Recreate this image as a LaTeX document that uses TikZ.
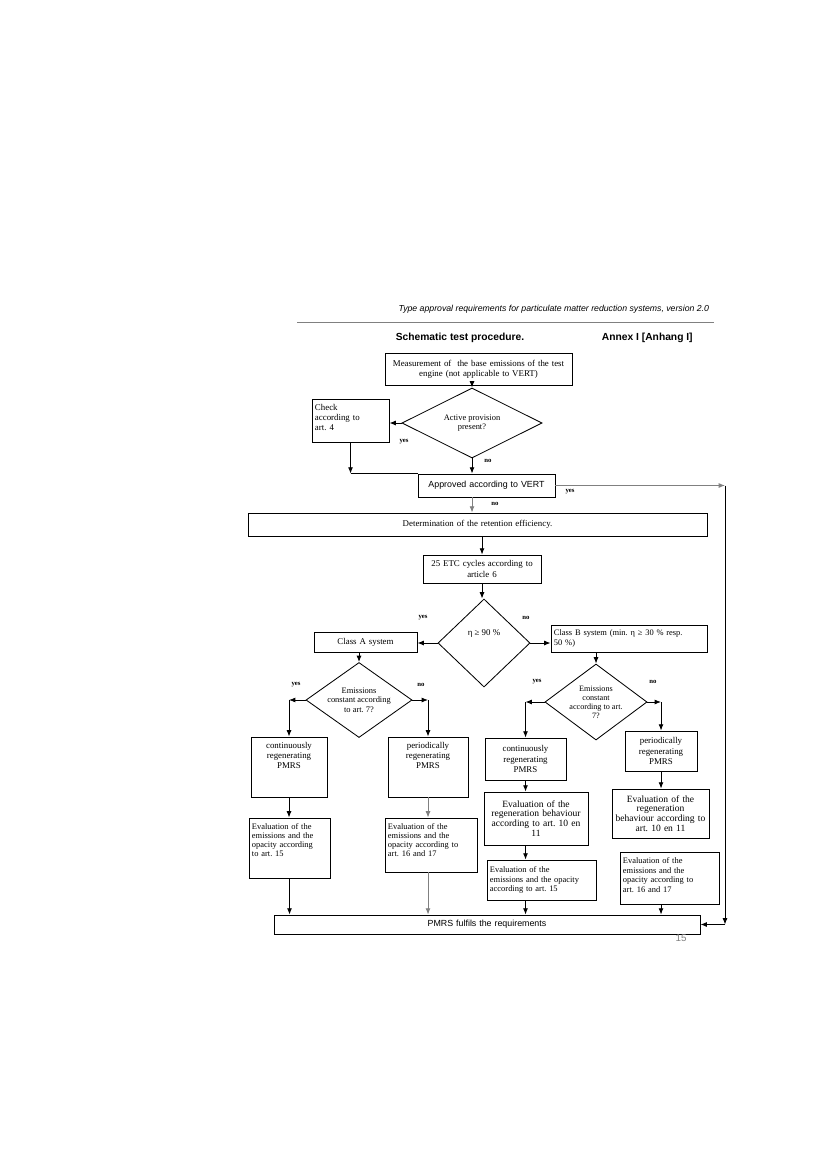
\documentclass[tikz,border=0pt]{standalone}
\usepackage{fontspec}
\setmainfont{Liberation Serif}
\setsansfont{Liberation Sans}
\usetikzlibrary{shapes.geometric,arrows.meta,positioning,calc}
\frenchspacing

\tikzset{
  box/.style={draw, rectangle, align=center, inner xsep=0.075cm, inner ysep=1pt,
              line width=0.6pt, font=\fontsize{6.3}{7.2}\selectfont},
  lbox/.style={box, align=left},
  sbox/.style={box, font=\sffamily\fontsize{6.3}{7}\selectfont},
  topbox/.style={text height=0.24cm, text depth=#1},
  decision/.style={draw, diamond, inner sep=0pt, align=center, line width=0.6pt,
                   font=\fontsize{6}{6.8}\selectfont},
  lbl/.style={font=\bfseries\fontsize{4.8}{5}\selectfont, inner sep=0pt},
  arr/.style={-{Latex[length=4.5pt,width=3.5pt]}, line width=0.6pt},
  line/.style={line width=0.6pt}
}

\begin{document}
\begin{tikzpicture}[x=0.025cm, y=-0.025cm]
\useasboundingbox (0,0) rectangle (826,1169);

% page header
\node[anchor=east, font=\sffamily\itshape\fontsize{6.2}{7}\selectfont] (hdr) at (714,309)
  {Type approval requirements for particulate matter reduction systems, version 2.0};
\draw[gray, line width=0.6pt] (297,322) -- (714,322);
\node[font=\sffamily\bfseries\fontsize{7.3}{8}\selectfont] (ttl) at (460,338) {Schematic test procedure.};
\node[anchor=west, font=\sffamily\bfseries\fontsize{7.3}{8}\selectfont] (annex) at (597,338) {Annex I [Anhang I]};

% upper part
\node[box, text width=4.525cm, minimum height=0.8cm] (meas) at (478.5,369)
  {Measurement of~ the base emissions of the test\\engine (not applicable to VERT)};
\node[decision, aspect=2, minimum width=3.5cm, minimum height=1.75cm] (dact) at (472,423)
  {Active provision\\present?};
\node[lbox, text width=1.775cm, topbox=0.765cm] (check) at (350.5,420.5)
  {Check\\according to\\art. 4};
\node[sbox, text width=3.275cm, minimum height=0.575cm] (vert) at (486.5,485.5)
  {Approved according to VERT};
\node[box, text width=11.325cm, minimum height=0.575cm] (det) at (477.5,524.5)
  {Determination of the retention efficiency.};
\node[box, text width=2.8cm, minimum height=0.7cm] (etc) at (482,569)
  {25 ETC cycles according to\\article 6};
\node[decision, minimum width=2.3cm, minimum height=2.2cm, text depth=0.5cm,
      font=\fontsize{6.3}{7}\selectfont] (deta) at (484,643) {η ≥ 90 \%};
\coordinate (vr) at (725,482);

% class A branch
\node[box, text width=2.425cm, minimum height=0.5cm] (clA) at (365.5,642) {Class A system};
\node[decision, aspect=1.4, minimum width=2.65cm, minimum height=1.875cm] (dA) at (359,700)
  {Emissions\\constant according\\to art. 7?};
\node[box, text width=1.75cm, text height=0.24cm, text depth=1.19cm] (contA) at (289,767)
  {continuously\\regenerating\\PMRS};
\node[box, text width=1.85cm, text height=0.24cm, text depth=1.19cm] (perA) at (428,767)
  {periodically\\regenerating\\PMRS};
\node[lbox, text width=1.875cm, topbox=1.19cm, font=\fontsize{6}{6.6}\selectfont] (evA1) at (289.5,848)
  {Evaluation of the\\emissions and the\\opacity according\\to art. 15};
\node[lbox, text width=2.15cm, topbox=1.04cm, font=\fontsize{6}{6.6}\selectfont] (evA2) at (431,845)
  {Evaluation of the\\emissions and the\\opacity according to\\art. 16 and 17};

% class B branch
\node[lbox, text width=3.75cm, minimum height=0.675cm, font=\fontsize{6}{7}\selectfont] (clB) at (629,638.5)
  {Class B system (min. η ≥ 30 \% resp.\\50 \%)};
\node[decision, aspect=1.34, minimum width=2.55cm, minimum height=1.9cm,
      font=\fontsize{5.8}{6.4}\selectfont] (dB) at (596,702)
  {Emissions\\constant\\according to art.\\7?};
\node[box, text width=1.875cm, minimum height=1.05cm] (contB) at (525.5,759)
  {continuously\\regenerating\\PMRS};
\node[box, text width=1.65cm, minimum height=1.0cm] (perB) at (661,751)
  {periodically\\regenerating\\PMRS};
\node[box, text width=2.45cm, minimum height=1.325cm, font=\fontsize{6.8}{7}\selectfont] (evB1) at (536,818.5)
  {Evaluation of the\\regeneration behaviour\\according to art. 10 en\\11};
\node[box, text width=2.275cm, minimum height=1.225cm, font=\fontsize{6.8}{7}\selectfont] (evB2) at (660.5,813.5)
  {Evaluation of the\\regeneration\\behaviour according to\\art. 10 en 11};
\node[lbox, text width=2.575cm, minimum height=1.0cm, font=\fontsize{6}{7}\selectfont] (evB3) at (541.5,880)
  {Evaluation of the\\emissions and the opacity\\according to art. 15};
\node[lbox, text width=2.325cm, topbox=1.0cm, font=\fontsize{6}{7}\selectfont] (evB4) at (669.5,878.5)
  {Evaluation of the\\emissions and the\\opacity according to\\art. 16 and 17};

% final box
\node[sbox, text width=10.5cm, minimum height=0.475cm] (fin) at (487,924.5)
  {PMRS fulfils the requirements};
\node[font=\sffamily\fontsize{7}{8}\selectfont, text=gray] (pg) at (681,938) {15};

% connectors
\draw[arr] (meas.south -| dact.north) -- (dact.north);
\draw[arr] (dact.west) -- (dact.west -| check.east);
\draw[line] (check.south |- vert.north) -- (vert.north west);
\draw[arr] (check.south) -- (check.south |- vert.north);
\draw[arr] (dact.south) -- (dact.south |- vert.north);
\draw[arr, gray] (vert.east) -- (vert.east -| vr);
\draw[arr] (vert.east -| vr) -- (vr |- fin.east);
\draw[arr] (vr |- fin.east) -- (fin.east);
\draw[arr, gray] (dact.south |- vert.south) -- (dact.south |- det.north);
\draw[arr] (etc.north |- det.south) -- (etc.north);
\draw[arr] (etc.south) -- (etc.south |- deta.north);
\draw[arr] (deta.west) -- (deta.west -| clA.east);
\draw[arr] (deta.east) -- (deta.east -| clB.west);

\draw[arr] (dA.north |- clA.south) -- (dA.north);
\draw[arr] (dA.west) -- (dA.west -| contA.north);
\draw[arr] (dA.west -| contA.north) -- (contA.north);
\draw[arr] (dA.east) -- (dA.east -| perA.north);
\draw[arr] (dA.east -| perA.north) -- (perA.north);
\draw[arr] (contA.south) -- (contA.south |- evA1.north);
\draw[arr, gray] (perA.south) -- (perA.south |- evA2.north);
\draw[arr] (evA1.south) -- (evA1.south |- fin.north);
\draw[arr, gray] (perA.south |- evA2.south) -- (perA.south |- fin.north);

\draw[arr] (dB.north |- clB.south) -- (dB.north);
\draw[arr] (dB.west) -- (dB.west -| contB.north);
\draw[arr] (dB.west -| contB.north) -- (contB.north);
\draw[arr] (dB.east) -- (dB.east -| perB.north);
\draw[arr] (dB.east -| perB.north) -- (perB.north);
\draw[arr] (contB.south) -- (contB.south |- evB1.north);
\draw[arr] (perB.south) -- (perB.south |- evB2.north);
\draw[arr] (contB.south |- evB1.south) -- (contB.south |- evB3.north);
\draw[arr] (contB.south |- evB3.south) -- (contB.south |- fin.north);
\draw[arr] (perB.south |- evB4.south) -- (perB.south |- fin.north);

% yes / no labels
\node[lbl] (y1) at (404,442) {yes};
\node[lbl] (n1) at (488,461) {no};
\node[lbl] (y2) at (570,492) {yes};
\node[lbl] (n2) at (495,504) {no};
\node[lbl] (y3) at (423,618) {yes};
\node[lbl] (n3) at (526,618) {no};
\node[lbl] (y4) at (296,685) {yes};
\node[lbl] (n4) at (421,685) {no};
\node[lbl] (y5) at (537,682) {yes};
\node[lbl] (n5) at (653,682) {no};
\end{tikzpicture}
\end{document}
